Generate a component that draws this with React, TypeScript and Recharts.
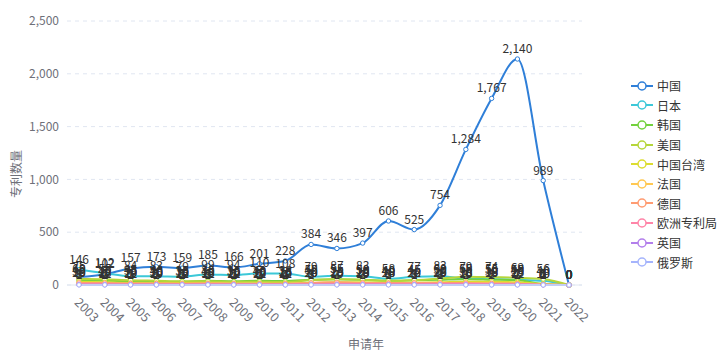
import React from "react";
import { CartesianGrid, Label, LabelList, Legend, Line, LineChart, XAxis, YAxis } from "recharts";

const years = ["2003", "2004", "2005", "2006", "2007", "2008", "2009", "2010", "2011", "2012", "2013", "2014", "2015", "2016", "2017", "2018", "2019", "2020", "2021", "2022"];

const china = [75, 102, 157, 173, 159, 185, 166, 201, 228, 384, 346, 397, 606, 525, 754, 1284, 1767, 2140, 989, 0];
const japan = [146, 112, 84, 83, 79, 99, 94, 110, 108, 79, 87, 83, 58, 77, 83, 60, 55, 50, 40, 0];
const korea = [45, 40, 35, 30, 30, 40, 35, 40, 38, 50, 55, 50, 40, 45, 50, 55, 50, 45, 10, 0];
const usa = [60, 55, 45, 40, 35, 35, 30, 30, 28, 45, 55, 50, 40, 45, 60, 79, 74, 69, 56, 0];
const taiwan = [30, 25, 20, 20, 18, 18, 15, 15, 15, 20, 25, 25, 20, 22, 25, 30, 30, 25, 10, 0];
const france = [15, 12, 12, 10, 10, 12, 10, 10, 10, 15, 15, 18, 15, 15, 15, 18, 15, 15, 5, 0];
const germany = [20, 18, 15, 15, 12, 15, 12, 12, 12, 20, 25, 20, 18, 20, 20, 18, 15, 12, 4, 0];
const epo = [8, 6, 5, 5, 5, 6, 5, 5, 4, 8, 10, 10, 8, 8, 9, 10, 8, 7, 2, 0];
const uk = [3, 2, 2, 2, 2, 3, 2, 2, 2, 3, 3, 3, 3, 3, 3, 3, 2, 2, 1, 0];
const russia = [1, 1, 1, 1, 1, 1, 1, 1, 1, 1, 1, 1, 1, 1, 1, 1, 1, 1, 0, 0];

const yTicks = [0, 500, 1000, 1500, 2000, 2500];

const SERIES = [
  { key: "中国", values: china, color: "#2f7fd8" },
  { key: "日本", values: japan, color: "#3cc8d8" },
  { key: "韩国", values: korea, color: "#73d13d" },
  { key: "美国", values: usa, color: "#b5d63a" },
  { key: "中国台湾", values: taiwan, color: "#dcdc30" },
  { key: "法国", values: france, color: "#ffc852" },
  { key: "德国", values: germany, color: "#ff9c72" },
  { key: "欧洲专利局", values: epo, color: "#ff85a8" },
  { key: "英国", values: uk, color: "#b37feb" },
  { key: "俄罗斯", values: russia, color: "#a5b4fc" },
];

const rows = years.map((y, i) => {
  const row: Record<string, string | number> = { year: y };
  SERIES.forEach((s) => (row[s.key] = s.values[i]));
  return row;
});

const FONT = '"Noto Sans CJK SC", "Noto Sans", sans-serif';
const fmt = (v: number) => v.toLocaleString("en-US");

function XTick(props: any) {
  const { x, y, payload } = props;
  const tx = x + 1;
  const ty = y + 4;
  return (
    <text x={tx} y={ty} dy="0.71em" transform={`rotate(45, ${tx}, ${ty})`} textAnchor="start" fontSize={12.5} fill="#6e7079" fontFamily={FONT}>
      {payload.value}
    </text>
  );
}

// legend keeps series order (recharts would sort it by name)
function LegendBox() {
  return (
    <div style={{ fontFamily: FONT, fontSize: 12, color: "#333" }}>
      {SERIES.map((s) => (
        <div key={s.key} style={{ display: "flex", alignItems: "center", height: 19.6 }}>
          <svg width={22} height={12} style={{ marginRight: 4 }}>
            <line x1={0} y1={6} x2={22} y2={6} stroke={s.color} strokeWidth={2} />
            <circle cx={11} cy={6} r={4} fill="#fff" stroke={s.color} strokeWidth={1.5} />
          </svg>
          <span>{s.key}</span>
        </div>
      ))}
    </div>
  );
}

export default function App() {
  return (
    <div style={{ position: "absolute", left: 0, top: 0, width: 720, height: 358, background: "#fff" }}>
      <LineChart width={720} height={358} data={rows} margin={{ top: 21, right: 50, bottom: 0, left: 0 }}>
        <CartesianGrid vertical={false} stroke="#e0e6f1" strokeDasharray="4 4" />
        <XAxis
          dataKey="year"
          height={73}
          interval={0}
          padding={{ left: 12, right: 13 }}
          tick={<XTick />}
          tickLine={false}
          axisLine={{ stroke: "#e0e6f1" }}
        >
          <Label
            content={() => (
              <text x={366} y={343} textAnchor="middle" dominantBaseline="central" fontSize={12} fill="#6e7079" fontFamily={FONT}>
                申请年
              </text>
            )}
          />
        </XAxis>
        <YAxis
          width={67}
          domain={[0, 2500]}
          ticks={yTicks}
          tickFormatter={fmt}
          axisLine={false}
          tickLine={false}
          tick={{ fontSize: 12, fill: "#6e7079", fontFamily: FONT }}
        >
          <Label
            content={() => (
              <text x={15} y={174} transform="rotate(-90, 15, 174)" textAnchor="middle" dominantBaseline="central" fontSize={12} fill="#6e7079" fontFamily={FONT}>
                专利数量
              </text>
            )}
          />
        </YAxis>
        <Legend
          layout="vertical"
          align="right"
          verticalAlign="middle"
          content={<LegendBox />}
          wrapperStyle={{ width: 88, left: 631, top: 76 }}
        />
        {SERIES.map((s) => (
          <Line
            key={s.key}
            type="monotone"
            dataKey={s.key}
            stroke={s.color}
            strokeWidth={2}
            dot={{ r: 2.2, fill: "#fff", stroke: s.color, strokeWidth: 1 }}
            isAnimationActive={false}
          >
            <LabelList dataKey={s.key} position="top" offset={6} formatter={(v: any) => fmt(Number(v))} style={{ fontSize: 12, fill: "#333", fontFamily: FONT }} />
          </Line>
        ))}
      </LineChart>
    </div>
  );
}
